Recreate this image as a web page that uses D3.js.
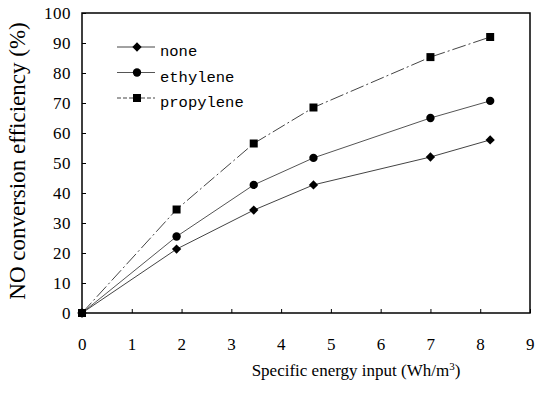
<!DOCTYPE html>
<html>
<head>
<meta charset="utf-8">
<script src="https://cdn.jsdelivr.net/npm/d3@7"></script>
<style>
  body { margin: 0; background: #fff; }
  svg { display: block; }
</style>
</head>
<body>
<script>
// Data
const energy = [0, 1.9, 3.45, 4.65, 7.0, 8.2];
const noneVals = [0, 21.3, 34.3, 42.7, 52.0, 57.7];
const ethyleneVals = [0, 25.5, 42.7, 51.7, 65.0, 70.7];
const propyleneVals = [0, 34.5, 56.5, 68.5, 85.3, 92.0];
const seriesNames = ["none", "ethylene", "propylene"];
const xTicks = [0, 1, 2, 3, 4, 5, 6, 7, 8, 9];
const yTicks = [0, 10, 20, 30, 40, 50, 60, 70, 80, 90, 100];

const w = 535, h = 395;
const padL = 82, padR = 530, padT = 13, padB = 313;
const serif = "'Liberation Serif', 'Times New Roman', serif";
const mono = "'Liberation Mono', 'Courier New', monospace";

const svg = d3.select("body").append("svg")
  .attr("width", w).attr("height", h);

// Scales
const xScale = d3.scaleLinear().domain([0, 9]).range([padL, padR]);
const yScale = d3.scaleLinear().domain([0, 100]).range([padB, padT]);

// Axes (ticks pointing inward)
const xAxis = d3.axisBottom(xScale).tickValues(xTicks).tickSize(-4).tickPadding(25).tickFormat(d3.format("d"));
const yAxis = d3.axisLeft(yScale).tickValues(yTicks).tickSize(-4).tickPadding(11).tickFormat(d3.format("d"));

const gx = svg.append("g").attr("transform", "translate(0," + padB + ")").call(xAxis);
const gy = svg.append("g").attr("transform", "translate(" + padL + ",0)").call(yAxis);
[gx, gy].forEach(g => {
  g.attr("font-family", serif).attr("font-size", 17);
  g.select(".domain").remove();
  g.selectAll("line").attr("stroke", "#000").attr("stroke-width", 1);
  g.selectAll("text").style("font-family", serif).style("font-size", "17px")
    .style("letter-spacing", "0.5px").attr("fill", "#000");
});

// Frame
svg.append("rect")
  .attr("x", padL).attr("y", padT)
  .attr("width", padR - padL).attr("height", padB - padT)
  .attr("fill", "none").attr("stroke", "#000").attr("stroke-width", 1.5);

// Axis titles
svg.append("text")
  .style("font-family", serif)
  .attr("x", 356).attr("y", 376)
  .attr("text-anchor", "middle")
  .style("font-size", "17px")
  .html("Specific energy input (Wh/m<tspan baseline-shift='super' font-size='11'>3</tspan>)");

svg.append("text")
  .style("font-family", serif)
  .attr("transform", "translate(25,161) rotate(-90)")
  .attr("text-anchor", "middle")
  .style("font-size", "23px")
  .text("NO conversion efficiency (%)");

// Series
const series = [
  { name: seriesNames[0], vals: noneVals, shape: d3.symbolDiamond2, size: 55, dash: null, color: "#444" },
  { name: seriesNames[1], vals: ethyleneVals, shape: d3.symbolCircle, size: 55, dash: null, color: "#555" },
  { name: seriesNames[2], vals: propyleneVals, shape: d3.symbolSquare, size: 64, dash: "14,3,2,3", color: "#444" }
];

const line = d3.line().x(d => xScale(d[0])).y(d => yScale(d[1]));

series.forEach(s => {
  const pts = energy.map((e, i) => [e, s.vals[i]]);
  svg.append("path")
    .attr("d", line(pts))
    .attr("fill", "none")
    .attr("stroke", s.color)
    .attr("stroke-width", 1)
    .attr("stroke-dasharray", s.dash);
  svg.selectAll(null).data(pts).enter().append("path")
    .attr("d", d3.symbol().type(s.shape).size(s.size))
    .attr("transform", d => "translate(" + xScale(d[0]) + "," + yScale(d[1]) + ")")
    .attr("fill", "#000");
});

// Legend
const legend = svg.append("g");
series.forEach((s, i) => {
  const y = 47 + i * 25.5;
  legend.append("line")
    .attr("x1", 117).attr("x2", 155).attr("y1", y).attr("y2", y)
    .attr("stroke", s.color).attr("stroke-width", 1)
    .attr("stroke-dasharray", s.dash ? "4,2" : null);
  legend.append("path")
    .attr("d", d3.symbol().type(s.shape).size(s.size))
    .attr("transform", "translate(137," + y + ")")
    .attr("fill", "#000");
  legend.append("text")
    .style("font-family", mono)
    .attr("x", 160).attr("y", y + 9)
    .style("font-size", "15.5px")
    .text(s.name);
});
</script>
</body>
</html>
